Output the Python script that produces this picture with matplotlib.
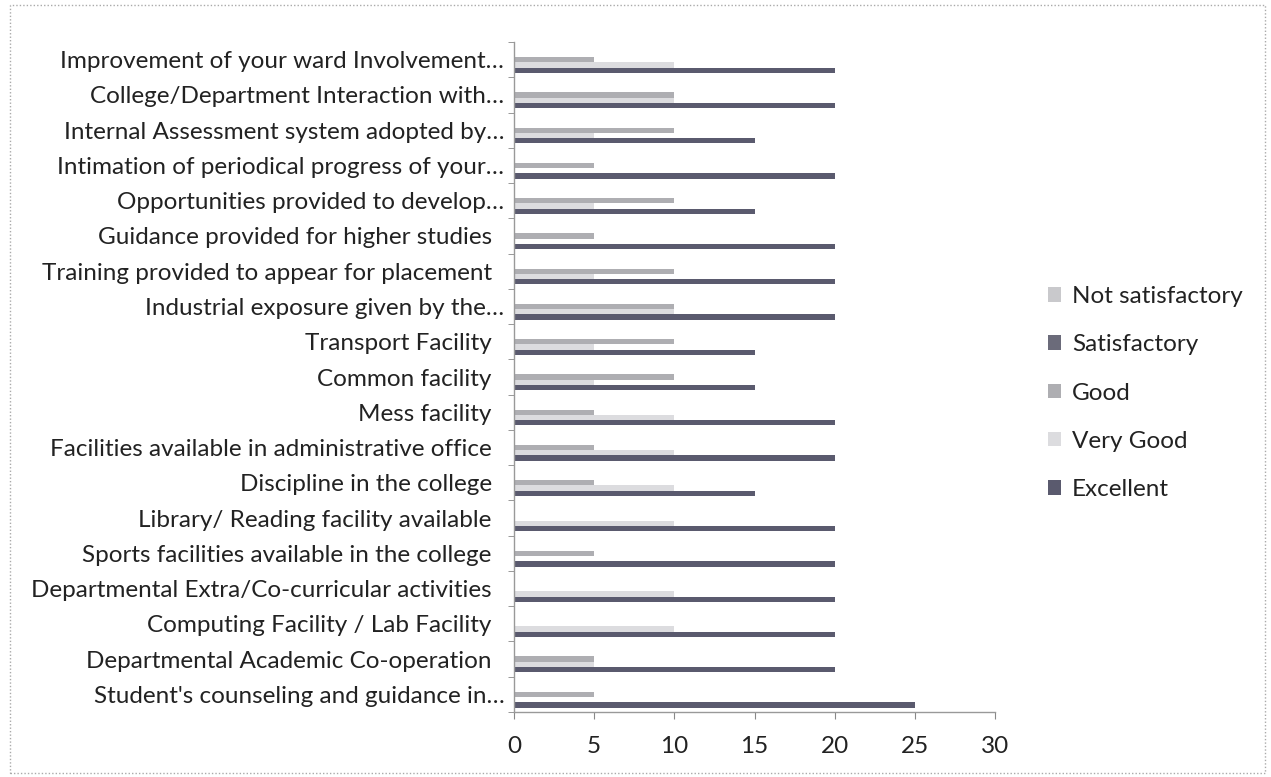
import matplotlib
matplotlib.use("Agg")
import matplotlib.pyplot as plt
import numpy as np
from matplotlib.patches import Rectangle

plt.rcParams['font.family'] = ['Lato', 'DejaVu Sans']

categories = [
    "Improvement of your ward Involvement…",
    "College/Department Interaction with…",
    "Internal Assessment system adopted by…",
    "Intimation of periodical progress of your…",
    "Opportunities provided to develop…",
    "Guidance provided for higher studies",
    "Training provided to appear for placement",
    "Industrial exposure given by the…",
    "Transport Facility",
    "Common facility",
    "Mess facility",
    "Facilities available in administrative office",
    "Discipline in the college",
    "Library/ Reading facility available",
    "Sports facilities available in the college",
    "Departmental Extra/Co-curricular activities",
    "Computing Facility / Lab Facility",
    "Departmental Academic Co-operation",
    "Student's counseling and guidance in…",
]

series_names = ["Not satisfactory", "Satisfactory", "Good", "Very Good", "Excellent"]
not_satisfactory = [0] * 19
satisfactory = [0] * 19
good = [5, 10, 10, 5, 10, 5, 10, 10, 10, 10, 5, 5, 5, 0, 5, 0, 0, 5, 5]
very_good = [10, 10, 5, 0, 5, 0, 5, 10, 5, 5, 10, 10, 10, 10, 0, 10, 10, 5, 0]
excellent = [20, 20, 15, 20, 15, 20, 20, 20, 15, 15, 20, 20, 15, 20, 20, 20, 20, 20, 25]

series_values = [not_satisfactory, satisfactory, good, very_good, excellent]
series_colors = ["#c9c9cc", "#6b6b7a", "#aeaeb2", "#dcdcdf", "#5a5a6e"]
x_ticks = [0, 5, 10, 15, 20, 25, 30]

FS = 17.5

fig = plt.figure(figsize=(12.71, 7.77), dpi=100)
ax = fig.add_axes([514 / 1271, 1 - 712 / 777, (995 - 514) / 1271, (712 - 42) / 777])

y = np.arange(len(categories))
bh = 0.15
for k, (name, vals, col) in enumerate(zip(series_names, series_values, series_colors)):
    ax.barh(y + (k - 2) * bh, vals, height=bh, color=col, label=name,
            edgecolor='none')

ax.set_ylim(len(categories) - 0.5, -0.5)
ax.set_xlim(0, 30)
ax.set_xticks(x_ticks)
ax.set_xticklabels([str(t) for t in x_ticks], fontsize=FS, color='#222222')

labels = [c if c.endswith("…") else c + "  " for c in categories]
ax.set_yticks(y)
ax.set_yticklabels(labels, fontsize=FS, color='#222222')
ax.tick_params(axis='y', length=0, pad=7)
ax.set_yticks(np.arange(-0.5, len(categories), 1), minor=True)
ax.tick_params(axis='y', which='minor', length=4, color='#888888', direction='out')
ax.tick_params(axis='x', length=5, color='#888888', direction='out', pad=12)

for s in ['top', 'right']:
    ax.spines[s].set_visible(False)
for s in ['left', 'bottom']:
    ax.spines[s].set_color('#999999')
    ax.spines[s].set_linestyle((0, (1, 1)))
    ax.spines[s].set_linewidth(1.0)

leg = ax.legend(loc='center left', bbox_to_anchor=(1026 / 1271, 1 - 393 / 777),
                bbox_transform=fig.transFigure, frameon=False, fontsize=FS,
                handlelength=0.55, handleheight=0.55, handletextpad=0.45,
                labelspacing=1.12)
for t in leg.get_texts():
    t.set_color('#222222')

border = Rectangle((10 / 1271, 4 / 777), 1255 / 1271, 768 / 777, transform=fig.transFigure,
                   fill=False, edgecolor='#aaaaaa', linewidth=1.0, linestyle=(0, (1, 1.5)))
fig.patches.append(border)

fig.savefig("out.png", dpi=100, facecolor='white')
